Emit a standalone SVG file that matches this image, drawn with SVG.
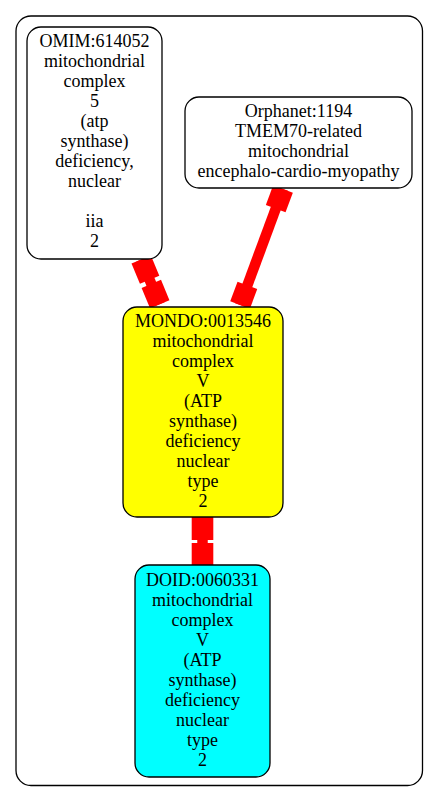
<svg xmlns="http://www.w3.org/2000/svg" width="439" height="803" viewBox="0 0 439 803">
<style>
.node{stroke:#000;stroke-width:1.3}
.txt{font-family:"Liberation Serif","Times New Roman",serif;font-size:18px;text-anchor:middle;fill:#000}
.edge line{stroke:#ff0000;stroke-width:10.5}
.edge rect{fill:#ff0000;stroke:none}
</style>
<rect width="439" height="803" fill="#fff"/>
<rect id="cluster" x="16" y="16" width="406.5" height="769.5" rx="15" ry="15" fill="none" stroke="#000" stroke-width="1.3"/>
<g id="edges" class="edge">
  <g transform="translate(141.2,259.5) rotate(-22.5)">
    <line x1="0" y1="0" x2="0" y2="48.4"/>
    <rect x="-10.5" y="0" width="21" height="22"/>
    <rect x="-10.5" y="26.4" width="21" height="22"/>
  </g>
  <g transform="translate(283,189) rotate(20.3)">
    <line x1="0" y1="0" x2="0" y2="123.7"/>
    <rect x="-10.5" y="0" width="21" height="21"/>
    <rect x="-10.5" y="102.7" width="21" height="21"/>
  </g>
  <g transform="translate(202.5,517)">
    <line x1="0" y1="0" x2="0" y2="48"/>
    <rect x="-10.8" y="0" width="21.6" height="23"/>
    <rect x="-10.8" y="26" width="21.6" height="22"/>
  </g>
</g>
<g id="omim">
  <rect class="node" x="27" y="27" width="135" height="232" rx="14" ry="14" fill="#fff"/>
  <text class="txt" x="94.5" y="46.7">OMIM:614052</text>
  <text class="txt" x="94.5" y="66.7">mitochondrial</text>
  <text class="txt" x="94.5" y="86.7">complex</text>
  <text class="txt" x="94.5" y="106.7">5</text>
  <text class="txt" x="94.5" y="126.7">(atp</text>
  <text class="txt" x="94.5" y="146.7">synthase)</text>
  <text class="txt" x="94.5" y="166.7">deficiency,</text>
  <text class="txt" x="94.5" y="186.7">nuclear</text>
  <text class="txt" x="94.5" y="226.7">iia</text>
  <text class="txt" x="94.5" y="246.7">2</text>
</g>
<g id="orphanet">
  <rect class="node" x="185" y="97" width="227" height="91" rx="14" ry="14" fill="#fff"/>
  <text class="txt" x="298.5" y="116.7">Orphanet:1194</text>
  <text class="txt" x="298.5" y="136.9">TMEM70-related</text>
  <text class="txt" x="298.5" y="157.1">mitochondrial</text>
  <text class="txt" x="298.5" y="177.3">encephalo-cardio-myopathy</text>
</g>
<g id="mondo">
  <rect class="node" x="123" y="307" width="160" height="210" rx="14" ry="14" fill="#ffff00"/>
  <text class="txt" x="203" y="326.7">MONDO:0013546</text>
  <text class="txt" x="203" y="346.7">mitochondrial</text>
  <text class="txt" x="203" y="366.7">complex</text>
  <text class="txt" x="203" y="386.7">V</text>
  <text class="txt" x="203" y="406.7">(ATP</text>
  <text class="txt" x="203" y="426.7">synthase)</text>
  <text class="txt" x="203" y="446.7">deficiency</text>
  <text class="txt" x="203" y="466.7">nuclear</text>
  <text class="txt" x="203" y="486.7">type</text>
  <text class="txt" x="203" y="506.7">2</text>
</g>
<g id="doid">
  <rect class="node" x="135" y="565" width="135" height="212" rx="14" ry="14" fill="#00ffff"/>
  <text class="txt" x="202.5" y="586">DOID:0060331</text>
  <text class="txt" x="202.5" y="606">mitochondrial</text>
  <text class="txt" x="202.5" y="626">complex</text>
  <text class="txt" x="202.5" y="646">V</text>
  <text class="txt" x="202.5" y="666">(ATP</text>
  <text class="txt" x="202.5" y="686">synthase)</text>
  <text class="txt" x="202.5" y="706">deficiency</text>
  <text class="txt" x="202.5" y="726">nuclear</text>
  <text class="txt" x="202.5" y="746">type</text>
  <text class="txt" x="202.5" y="766">2</text>
</g>
</svg>
